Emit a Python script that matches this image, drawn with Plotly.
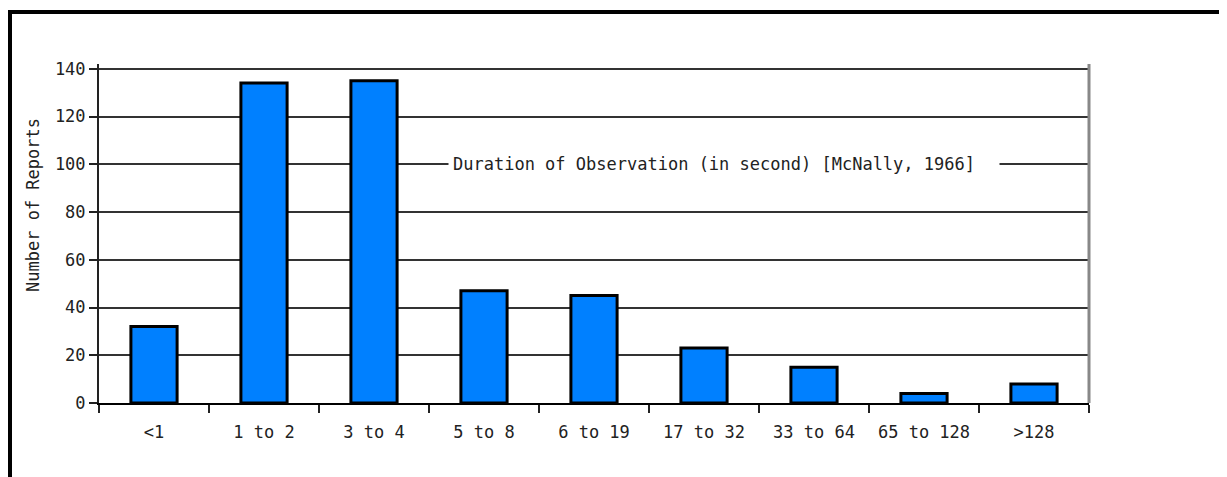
import plotly.graph_objects as go

categories = ["<1", "1 to 2", "3 to 4", "5 to 8", "6 to 19", "17 to 32", "33 to 64", "65 to 128", ">128"]
reports = [32, 134, 135, 47, 45, 23, 15, 4, 8]
y_ticks = [0, 20, 40, 60, 80, 100, 120, 140]
annotation_text = "Duration of Observation (in second) [McNally, 1966]"
y_title = "Number of Reports"

W, H = 1227, 477
OFF = 8  # page body margin offset
L, T = 99 - OFF, 64 - OFF
R = W - (1089 - OFF)
B = H - (403 - OFF)
FONT = "DejaVu Sans Mono"
FS = 17

fig = go.Figure()
fig.add_trace(go.Bar(
    x=categories, y=reports,
    marker=dict(color="rgb(0,128,255)", line=dict(color="black", width=3)),
    width=0.42,
))

pw = W - L - R
ph = H - T - B

def px_x(p):
    return (p - OFF - L) / pw

def px_y(p):
    return (H - B - (p - OFF)) / ph

fig.update_layout(
    width=W, height=H,
    margin=dict(l=L, r=R, t=T, b=B),
    paper_bgcolor="white", plot_bgcolor="white",
    showlegend=False,
    font=dict(family=FONT, size=FS, color="#222"),
    xaxis=dict(
        type="category", tickson="boundaries", ticks="outside", ticklen=8,
        tickwidth=2, tickcolor="#222", showline=True, linecolor="black", linewidth=2,
        showgrid=False, ticklabelstandoff=13,
        tickfont=dict(family=FONT, size=FS, color="#222"),
    ),
    yaxis=dict(
        range=[0, 142], tickvals=y_ticks, ticks="outside", ticklen=8, tickwidth=2,
        tickcolor="#222", showline=True, linecolor="#222", linewidth=2,
        showgrid=True, gridcolor="#333", gridwidth=1.5, zeroline=False,
        tickfont=dict(family=FONT, size=FS, color="#222"),
    ),
    annotations=[
        dict(
            text=annotation_text + "\u00a0\u00a0", xref="paper", yref="y",
            x=px_x(724), y=100, showarrow=False, bgcolor="white", borderpad=4,
            font=dict(family=FONT, size=FS, color="#222"),
        ),
        dict(
            text=y_title, xref="paper", yref="paper", x=px_x(21), y=px_y(205),
            textangle=-90, showarrow=False,
            font=dict(family=FONT, size=FS, color="#222"),
        ),
    ],
    shapes=[
        dict(type="line", xref="paper", yref="paper", x0=1, x1=1, y0=0, y1=1,
             line=dict(color="#888", width=3)),
        dict(type="line", xref="paper", yref="paper", x0=px_x(8), x1=px_x(W + 20),
             y0=px_y(12), y1=px_y(12), line=dict(color="black", width=4)),
        dict(type="line", xref="paper", yref="paper", x0=px_x(10), x1=px_x(10),
             y0=px_y(10), y1=px_y(H + 20), line=dict(color="black", width=4)),
    ],
)

fig.write_html("out.html")
